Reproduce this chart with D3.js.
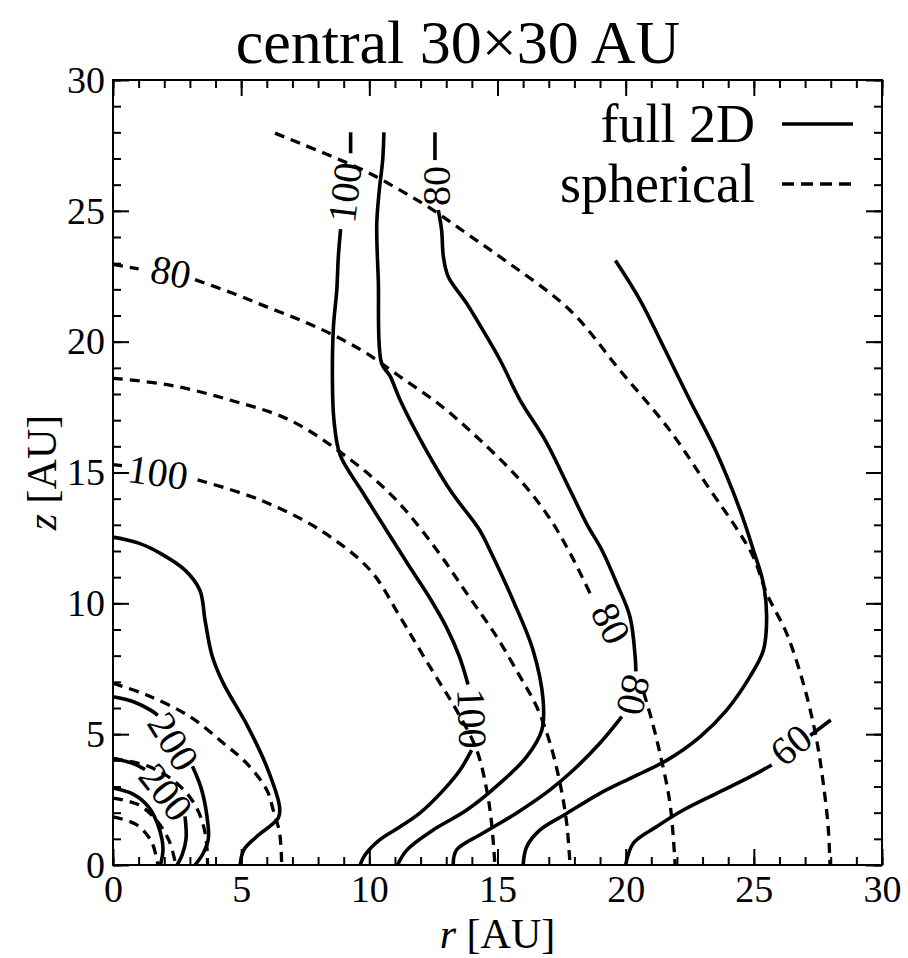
<!DOCTYPE html>
<html>
<head>
<meta charset="utf-8">
<script src="https://cdn.jsdelivr.net/npm/d3@7"></script>
<style>
  body { margin: 0; background: #fff; }
  svg { display: block; }
  text { font-family: "Liberation Serif", "Times New Roman", serif; fill: #000; }
</style>
</head>
<body>
<svg id="chart" width="908" height="958"></svg>
<script>
// tick values
const majorTicks = [0, 5, 10, 15, 20, 25, 30];
const minorTicks = [0,1,2,3,4,5,6,7,8,9,10,11,12,13,14,15,16,17,18,19,20,21,22,23,24,25,26,27,28,29,30];

// full 2D contours, [r, z] in AU, split where a label sits
const full2D = [
    // 100 (upper, vertical)
    [[9.27, 28.0], [9.27, 27.2]],
    [[8.88, 24.3], [8.79, 23.24], [8.73, 21.97], [8.6, 20.57], [8.56, 18.53], [8.62, 17.0], [8.86, 15.67],
     [9.7, 14.3], [10.6, 12.9], [11.5, 11.5], [12.3, 10.3], [13.0, 9.1], [13.5, 8.0], [13.85, 6.9]],
    [[13.99, 4.39], [13.54, 3.63], [12.9, 2.87], [11.98, 1.99], [11.2, 1.46], [10.4, 0.96], [9.83, 0.38], [9.64, 0]],
    // unlabeled, from top
    [[10.57, 28.0], [10.52, 26.94], [10.39, 25.8], [10.29, 24.5], [10.35, 22.35], [10.48, 19.17], [10.8, 18.7],
     [11.2, 17.77], [12.0, 16.24], [13.15, 14.33], [14.3, 12.8], [14.7, 12.04], [15.6, 10.13], [16.39, 8.2],
     [16.78, 6.3], [16.73, 5.16], [16.14, 4.14], [15.1, 3.13], [13.8, 2.1], [12.49, 1.34], [11.46, 0.57], [11.1, 0]],
    // 80
    [[12.56, 28.0], [12.56, 26.94]],
    [[12.69, 25.03], [12.82, 24.26], [12.89, 23.24], [13.08, 22.48], [13.8, 21.46], [14.58, 20.19], [15.1, 19.3],
     [15.88, 17.77], [16.86, 16.24], [17.83, 14.33], [18.5, 13.0], [19.07, 12.04], [19.65, 10.77], [20.17, 9.48],
     [20.37, 7.96], [20.4, 7.4]],
    [[19.85, 5.67], [19.0, 4.66], [17.96, 3.63], [17.05, 2.87], [15.75, 1.99], [14.44, 1.22], [13.4, 0.57], [13.27, 0]],
    // outer unlabeled
    [[19.6, 23.1], [20.56, 21.59], [21.54, 19.68], [22.5, 17.77], [23.5, 15.86], [24.46, 13.57], [24.98, 12.04],
     [25.37, 10.77], [25.5, 9.48], [25.37, 8.2], [24.85, 7.2], [23.94, 5.92], [22.9, 4.9], [21.6, 4.0], [20.3, 3.37],
     [19.0, 2.74], [17.7, 1.97], [16.66, 1.34], [16.14, 0.7], [16.0, 0]],
    // 60
    [[20.0, 0], [20.3, 0.83], [21.2, 1.46], [22.25, 2.1], [23.55, 2.74], [24.85, 3.37], [25.7, 3.82]],
    [[27.2, 4.95], [28.0, 5.54]],
    // central region
    [[0, 12.53], [1.0, 12.3], [1.83, 11.92], [2.81, 11.27], [3.39, 10.5], [3.59, 9.36], [3.86, 8.02], [4.3, 6.95],
     [5.2, 5.4], [6.0, 3.75], [6.5, 2.2], [6.45, 1.8], [5.6, 1.08], [5.1, 0.57], [4.96, 0]],
    [[0, 6.43], [0.8, 6.24], [1.5, 5.9], [1.75, 5.72]],
    [[3.1, 3.77], [3.45, 2.9], [3.66, 1.9], [3.72, 1.0], [3.52, 0.45], [3.2, 0]],
    [[0, 4.07], [0.79, 3.88], [1.25, 3.65]],
    [[2.81, 1.86], [2.85, 1.0], [2.7, 0.4], [2.5, 0]],
    [[0, 2.94], [0.8, 2.7], [1.4, 2.2], [1.8, 1.4], [1.95, 0.6], [1.85, 0]]
];

// spherical contours
const spherical = [
    [[6.32, 27.97], [7.3, 27.58], [8.59, 27.06], [9.9, 26.49], [11.2, 25.79], [12.49, 25.03], [13.8, 24.13],
     [15.1, 23.24], [17.83, 21.2], [19.78, 18.9], [21.73, 16.6], [23.3, 14.33], [24.3, 12.9], [24.98, 11.78],
     [25.5, 10.38], [26.28, 8.85], [26.93, 6.94], [27.32, 5.41], [27.52, 4.39], [27.71, 3.12], [27.9, 1.46], [27.97, 0]],
    // 80
    [[0, 22.95], [1.0, 22.78]],
    [[3.2, 22.37], [4.7, 21.84], [6.0, 21.33], [7.3, 20.83], [8.6, 20.25], [9.9, 19.55], [11.2, 18.66], [12.76, 17.58],
     [14.32, 16.24], [15.88, 14.71], [17.0, 13.3], [17.83, 11.92], [18.61, 10.38]],
    [[20.7, 6.6], [21.0, 5.6], [21.34, 4.26], [21.73, 2.35], [21.93, 0]],
    [[0, 18.6], [2.22, 18.34], [4.56, 17.77], [6.9, 17.0], [9.25, 15.5], [11.0, 14.0], [12.63, 12.04], [13.8, 10.38],
     [14.97, 8.72], [15.88, 7.2], [16.53, 6.05], [17.05, 4.65], [17.44, 3.12], [17.7, 1.59], [17.83, 0]],
    // 100
    [[0, 15.3], [0.35, 15.26]],
    [[3.3, 14.72], [5.74, 13.95], [8.08, 12.8], [10.03, 11.27], [11.2, 9.48], [11.98, 8.2], [12.76, 6.94], [13.4, 5.92],
     [14.19, 4.39], [14.58, 2.87], [14.77, 1.59], [14.9, 0]],
    [[0, 6.94], [1.31, 6.5], [3.0, 5.67], [4.3, 4.66], [5.2, 3.9], [6.0, 2.87], [6.25, 2.1], [6.5, 1.22], [6.58, 0]],
    [[0, 4.07], [1.3, 3.8], [2.4, 3.2], [3.2, 2.3], [3.6, 1.2], [3.69, 0]],
    [[0, 2.56], [1.0, 2.3], [1.7, 1.7], [2.2, 0.9], [2.45, 0]],
    [[0, 1.84], [0.9, 1.55], [1.5, 0.9], [1.75, 0]]
];

// contour labels: text, r, z, rotation (deg)
const contourLabels = [
    ["100", 9.05, 25.7, -83],
    ["80", 12.63, 25.95, -90],
    ["80", 2.26, 22.66, 11],
    ["100", 1.75, 15.0, 8],
    ["100", 14.0, 5.6, 88],
    ["80", 19.42, 9.23, 63],
    ["80", 20.3, 6.5, 102],
    ["60", 26.45, 4.59, -39],
    ["200", 2.35, 4.72, 58],
    ["200", 2.06, 2.78, 52]
];

const legendItems = [["full 2D", "solid"], ["spherical", "dashed"]];

const svg = d3.select("#chart");
const plotLeft = 113, plotRight = 882, plotTop = 80, plotBottom = 865;
const x = d3.scaleLinear().domain([0, 30]).range([plotLeft, plotRight]);
const y = d3.scaleLinear().domain([0, 30]).range([plotBottom, plotTop]);

const line = d3.line()
    .x(d => x(d[0]))
    .y(d => y(d[1]))
    .curve(d3.curveCatmullRom.alpha(0.5));

// axes, ticks pointing in on all four sides
function styleAxis(g) {
    g.select(".domain").remove();
    g.selectAll("line").attr("stroke", "#000").attr("stroke-width", 2);
    g.attr("font-family", "Liberation Serif, Times New Roman, serif").attr("font-size", 38);
}

svg.append("g").attr("transform", `translate(0,${plotBottom})`)
    .call(d3.axisBottom(x).tickValues(minorTicks).tickSize(-8).tickFormat(""))
    .call(styleAxis);
svg.append("g").attr("transform", `translate(0,${plotBottom})`)
    .call(d3.axisBottom(x).tickValues(majorTicks).tickSize(-16).tickPadding(10).tickFormat(d3.format("d")))
    .call(styleAxis);
svg.append("g").attr("transform", `translate(0,${plotTop})`)
    .call(d3.axisTop(x).tickValues(minorTicks).tickSize(-8).tickFormat(""))
    .call(styleAxis);
svg.append("g").attr("transform", `translate(0,${plotTop})`)
    .call(d3.axisTop(x).tickValues(majorTicks).tickSize(-16).tickFormat(""))
    .call(styleAxis);
svg.append("g").attr("transform", `translate(${plotLeft},0)`)
    .call(d3.axisLeft(y).tickValues(minorTicks).tickSize(-8).tickFormat(""))
    .call(styleAxis);
svg.append("g").attr("transform", `translate(${plotLeft},0)`)
    .call(d3.axisLeft(y).tickValues(majorTicks).tickSize(-16).tickPadding(8).tickFormat(d3.format("d")))
    .call(styleAxis);
svg.append("g").attr("transform", `translate(${plotRight},0)`)
    .call(d3.axisRight(y).tickValues(minorTicks).tickSize(-8).tickFormat(""))
    .call(styleAxis);
svg.append("g").attr("transform", `translate(${plotRight},0)`)
    .call(d3.axisRight(y).tickValues(majorTicks).tickSize(-16).tickFormat(""))
    .call(styleAxis);

svg.append("rect")
    .attr("x", plotLeft).attr("y", plotTop)
    .attr("width", plotRight - plotLeft).attr("height", plotBottom - plotTop)
    .attr("fill", "none").attr("stroke", "#000").attr("stroke-width", 2);

// contours
svg.append("g").selectAll("path")
    .data(full2D)
    .enter().append("path")
    .attr("d", line)
    .attr("fill", "none")
    .attr("stroke", "#000")
    .attr("stroke-width", 3.6)
    .attr("stroke-linejoin", "round");

svg.append("g").selectAll("path")
    .data(spherical)
    .enter().append("path")
    .attr("d", line)
    .attr("fill", "none")
    .attr("stroke", "#000")
    .attr("stroke-width", 3.3)
    .attr("stroke-dasharray", "10,7");

svg.append("g").selectAll("text")
    .data(contourLabels)
    .enter().append("text")
    .attr("transform", d => `translate(${x(d[1])},${y(d[2])}) rotate(${d[3]})`)
    .attr("text-anchor", "middle")
    .attr("dominant-baseline", "central")
    .attr("font-size", 40)
    .text(d => d[0]);

// title and axis labels
svg.append("text")
    .attr("x", 458).attr("y", 63)
    .attr("text-anchor", "middle")
    .attr("font-size", 62)
    .text("central 30\u00d730 AU");

const xLab = svg.append("text")
    .attr("x", (plotLeft + plotRight) / 2).attr("y", 948)
    .attr("text-anchor", "middle")
    .attr("font-size", 42);
xLab.append("tspan").attr("font-style", "italic").text("r");
xLab.append("tspan").text(" [AU]");

const yLab = svg.append("text")
    .attr("transform", `translate(56,${(plotTop + plotBottom) / 2}) rotate(-90)`)
    .attr("text-anchor", "middle")
    .attr("font-size", 42);
yLab.append("tspan").attr("font-style", "italic").text("z");
yLab.append("tspan").text(" [AU]");

// legend
const legend = svg.append("g");
legendItems.forEach((item, i) => {
    const by = 142 + i * 60;
    legend.append("text")
        .attr("x", 755).attr("y", by)
        .attr("text-anchor", "end")
        .attr("font-size", 54)
        .text(item[0]);
    legend.append("line")
        .attr("x1", 782).attr("x2", 853)
        .attr("y1", by - 18).attr("y2", by - 18)
        .attr("stroke", "#000")
        .attr("stroke-width", 3.3)
        .attr("stroke-dasharray", item[1] === "dashed" ? "12,7" : null);
});
</script>
</body>
</html>
